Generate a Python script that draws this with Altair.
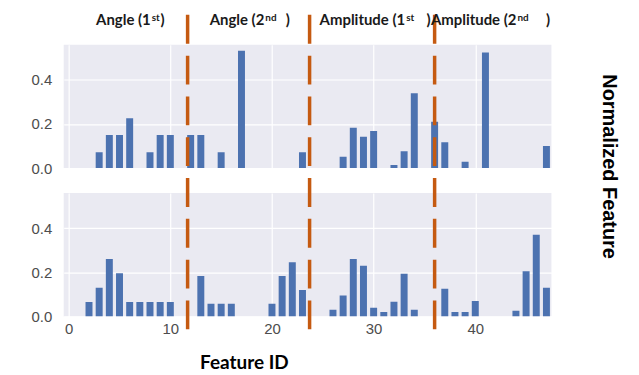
import altair as alt
import pandas as pd

# ---------------- data ----------------
top_ids = [3, 4, 5, 6, 8, 9, 10, 12, 13, 15, 17, 23, 27, 28, 29, 30, 32, 33, 34, 36, 37, 39, 41, 47]
top_vals = [0.072, 0.15, 0.15, 0.226, 0.072, 0.15, 0.15, 0.15, 0.15, 0.072, 0.532, 0.072,
            0.051, 0.183, 0.142, 0.168, 0.014, 0.077, 0.34, 0.21, 0.117, 0.029, 0.524, 0.10]

bot_ids = [2, 3, 4, 5, 6, 7, 8, 9, 10, 13, 14, 15, 16, 20, 21, 22, 23, 26, 27, 28, 29, 30, 31,
           32, 33, 34, 37, 38, 39, 40, 44, 45, 46, 47]
bot_vals = [0.065, 0.13, 0.26, 0.196, 0.065, 0.065, 0.065, 0.065, 0.065, 0.183, 0.057, 0.057,
            0.057, 0.057, 0.183, 0.246, 0.12, 0.03, 0.095, 0.26, 0.23, 0.039, 0.02, 0.067,
            0.193, 0.03, 0.125, 0.02, 0.02, 0.07, 0.026, 0.205, 0.37, 0.13]

divider_pos = [11.7, 23.7, 36.0]

section_prefix = ["Angle (1", "Angle (2", "Amplitude (1", "Amplitude (2"]
section_sup = ["st", "nd", "st", "nd"]
section_suffix = [")", ")", ")", ")"]
section_sup_x = [8.07, 19.25, 33.1, 44.05]
section_close_x = [9.03, 21.35, 35.2, 46.95]

x_ticks = [0, 10, 20, 30, 40]
y_ticks = [0.0, 0.2, 0.4]

# ---------------- frames ----------------
top_df = pd.DataFrame({"id": top_ids, "value": top_vals})
bot_df = pd.DataFrame({"id": bot_ids, "value": bot_vals})
div_df = pd.DataFrame({"pos": divider_pos})
lab_df = pd.DataFrame({"prefix": section_prefix, "sup": section_sup, "suffix": section_suffix,
                       "sx": section_sup_x, "cx": section_close_x})

W, H = 490, 124
BAR = "#4C72B0"
ORANGE = "#C55A11"
BG = "#EAEAF2"

xscale = alt.Scale(domain=[0, 47], nice=False, zero=False)
yscale = alt.Scale(domain=[0, 0.56], nice=False)

common = dict(gridColor="white", gridWidth=1.2, gridOpacity=1, ticks=False, domain=False,
              labelFont="Liberation Sans", labelFontSize=15, labelColor="#4d4d4d")

yaxis = alt.Axis(values=y_ticks, format=".1f", title=None, labelPadding=12, **common)
xaxis_top = alt.Axis(values=x_ticks, labels=False, title=None, **common)
xaxis_bot = alt.Axis(values=x_ticks, format="d", title="Feature ID", labelPadding=5,
                     titleFont="Lato", titleFontSize=19, titleFontWeight="bold",
                     titleColor="black", titleX=181, titleY=52, titleBaseline="alphabetic",
                     titleAlign="center", **common)


def panel(df, xaxis, rule_y, rule_y2, with_labels=False):
    bars = alt.Chart(df).mark_bar(size=7, color=BAR, clip=True).encode(
        x=alt.X("id:Q", scale=xscale, axis=xaxis),
        y=alt.Y("value:Q", scale=yscale, axis=yaxis),
    )
    rules = alt.Chart(div_df).mark_rule(color=ORANGE, strokeWidth=3.5, strokeDash=[29, 12]).encode(
        x=alt.X("pos:Q", scale=xscale),
        y=alt.value(rule_y),
        y2=alt.value(rule_y2),
    )
    layers = [bars, rules]
    if with_labels:
        pre = alt.Chart(lab_df).mark_text(align="right", baseline="alphabetic", font="Lato",
                                          fontSize=15, fontWeight="bold", color="#1a1a1a").encode(
            x=alt.X("sx:Q", scale=xscale), y=alt.value(-20), text="prefix:N")
        sup = alt.Chart(lab_df).mark_text(align="left", baseline="alphabetic", font="Lato",
                                          fontSize=10, fontWeight="bold", color="#1a1a1a", dx=1).encode(
            x=alt.X("sx:Q", scale=xscale), y=alt.value(-24), text="sup:N")
        suf = alt.Chart(lab_df).mark_text(align="left", baseline="alphabetic", font="Lato",
                                          fontSize=15, fontWeight="bold", color="#1a1a1a").encode(
            x=alt.X("cx:Q", scale=xscale), y=alt.value(-20), text="suffix:N")
        layers += [pre, sup, suf]
    return alt.layer(*layers).properties(
        width=W, height=H, view=alt.ViewBackground(fill=BG, stroke=None, strokeWidth=0)
    )


top = panel(top_df, xaxis_top, -30, 127, with_labels=True)
bottom = panel(bot_df, xaxis_bot, -15, 148)

chart = alt.vconcat(top, bottom, spacing=25, bounds="flush").resolve_scale(x="shared").properties(
    title=alt.TitleParams("Normalized Feature", orient="right", anchor="middle",
                          font="Liberation Sans", fontSize=20, fontWeight="bold",
                          color="black", offset=48, dx=-26),
    padding={"left": 31, "top": 12, "right": 20, "bottom": 5},
).configure_view(fill=BG, strokeWidth=0).configure(background="white")

chart.save("out.html", embed_options={"renderer": "svg", "actions": False})
